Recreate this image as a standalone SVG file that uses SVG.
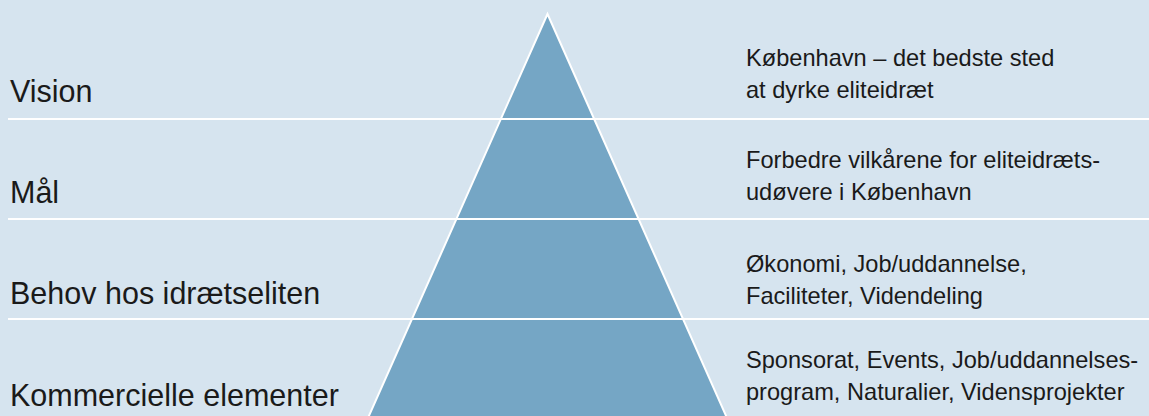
<svg xmlns="http://www.w3.org/2000/svg" width="1149" height="416" viewBox="0 0 1149 416">
<style>
.bg{fill:#d6e4ef}
.pyr{fill:#75a6c5;stroke:#ffffff;stroke-width:2}
.sep{stroke:#ffffff;stroke-width:2}
.lbl{font-family:"Liberation Sans",Arial,sans-serif;font-size:30.5px;fill:#1a1a1a}
.desc{font-family:"Liberation Sans",Arial,sans-serif;font-size:23.6px;fill:#1a1a1a}
</style>
<rect class="bg" x="0" y="0" width="1149" height="416"/>
<g id="pyramid">
<polygon class="pyr" points="547.5,14 368,418 727,418"/>
</g>
<g id="connectors">
<line class="sep" x1="8" y1="119" x2="1149" y2="119"/>
<line class="sep" x1="8" y1="219" x2="1149" y2="219"/>
<line class="sep" x1="8" y1="319" x2="1149" y2="319"/>
</g>
<g id="vision">
<text class="lbl" x="10" y="102">Vision</text>
<text class="desc" x="746" y="66">København – det bedste sted</text>
<text class="desc" x="746" y="98">at dyrke eliteidræt</text>
</g>
<g id="maal">
<text class="lbl" x="10" y="203">Mål</text>
<text class="desc" x="746" y="168">Forbedre vilkårene for eliteidræts-</text>
<text class="desc" x="746" y="200">udøvere i København</text>
</g>
<g id="behov">
<text class="lbl" x="10" y="304">Behov hos idrætseliten</text>
<text class="desc" x="746" y="272">Økonomi, Job/uddannelse,</text>
<text class="desc" x="746" y="304">Faciliteter, Videndeling</text>
</g>
<g id="kommercielle">
<text class="lbl" x="10" y="406">Kommercielle elementer</text>
<text class="desc" x="746" y="368">Sponsorat, Events, Job/uddannelses-</text>
<text class="desc" x="746" y="400">program, Naturalier, Vidensprojekter</text>
</g>
</svg>
